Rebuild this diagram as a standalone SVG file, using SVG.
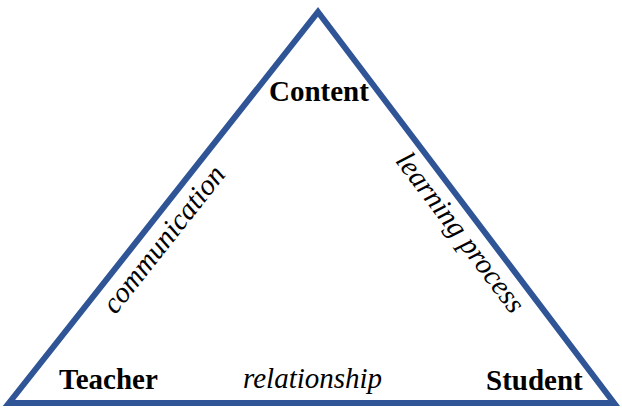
<svg xmlns="http://www.w3.org/2000/svg" width="622" height="409" viewBox="0 0 622 409">
  <style>
    .edge { fill: none; stroke: #2F5597; stroke-width: 6; stroke-linejoin: miter; }
    .node { font-family: 'Liberation Serif', 'Times New Roman', serif; font-size: 29px; font-weight: bold; fill: #000; }
    .label { font-family: 'Liberation Serif', 'Times New Roman', serif; font-size: 29px; font-style: italic; fill: #000; }
  </style>
  <rect width="622" height="409" fill="#fff"/>
  <g id="connectors">
    <polygon class="edge" points="318,12 614,403 9,403"/>
    <text class="label" x="0" y="0" text-anchor="middle" transform="translate(171,245) rotate(-51.7)">communication</text>
    <text class="label" x="0" y="0" text-anchor="middle" transform="translate(453,238) rotate(52.8)">learning process</text>
    <text class="label" x="243" y="388">relationship</text>
  </g>
  <g id="content">
    <text class="node" x="269" y="101">Content</text>
  </g>
  <g id="teacher">
    <text class="node" x="59" y="389">Teacher</text>
  </g>
  <g id="student">
    <text class="node" x="486" y="390">Student</text>
  </g>
</svg>
